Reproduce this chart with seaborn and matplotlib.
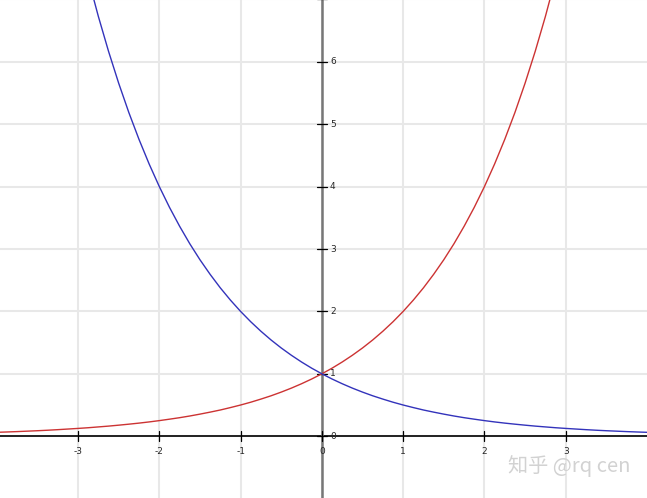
import matplotlib
matplotlib.use("Agg")
import matplotlib.pyplot as plt
import seaborn as sns
import pandas as pd

# points (x step 0.125)
xs = [-4.0, -3.875, -3.75, -3.625, -3.5, -3.375, -3.25, -3.125,
      -3.0, -2.875, -2.75, -2.625, -2.5, -2.375, -2.25, -2.125,
      -2.0, -1.875, -1.75, -1.625, -1.5, -1.375, -1.25, -1.125,
      -1.0, -0.875, -0.75, -0.625, -0.5, -0.375, -0.25, -0.125,
      0.0, 0.125, 0.25, 0.375, 0.5, 0.625, 0.75, 0.875,
      1.0, 1.125, 1.25, 1.375, 1.5, 1.625, 1.75, 1.875,
      2.0, 2.125, 2.25, 2.375, 2.5, 2.625, 2.75, 2.875,
      3.0, 3.125, 3.25, 3.375, 3.5, 3.625, 3.75, 3.875, 4.0]
red_y = [0.0625, 0.068, 0.074, 0.081, 0.088, 0.096, 0.105, 0.115,
         0.125, 0.136, 0.149, 0.162, 0.177, 0.193, 0.21, 0.229,
         0.25, 0.273, 0.297, 0.324, 0.354, 0.386, 0.42, 0.459,
         0.5, 0.545, 0.595, 0.648, 0.707, 0.771, 0.841, 0.917,
         1.0, 1.09, 1.189, 1.297, 1.414, 1.542, 1.682, 1.834,
         2.0, 2.181, 2.378, 2.594, 2.828, 3.084, 3.364, 3.668,
         4.0, 4.362, 4.757, 5.187, 5.657, 6.169, 6.727, 7.336,
         8.0, 8.72, 9.51, 10.37, 11.31, 12.34, 13.45, 14.67, 16.0]
blue_y = red_y[::-1]

x_ticks = [-3, -2, -1, 0, 1, 2, 3]
y_ticks = [0, 1, 2, 3, 4, 5, 6, 7]

df = pd.DataFrame({"x": xs + xs, "y": red_y + blue_y,
                   "curve": ["red"] * len(xs) + ["blue"] * len(xs)})

sns.set_style("white")
fig = plt.figure(figsize=(6.47, 4.98), dpi=100)
ax = fig.add_axes([0, 0, 1, 1])

# grid
for gx in x_ticks:
    ax.axvline(gx, color="#e8e8e8", lw=1.5, zorder=0)
for gy in y_ticks:
    ax.axhline(gy, color="#e8e8e8", lw=1.5, zorder=0)

sns.lineplot(data=df, x="x", y="y", hue="curve", palette={"red": "#cc3333", "blue": "#3333bb"},
             sort=True, legend=False, lw=1.0, ax=ax, zorder=3)

# axes
ax.axhline(0, color="black", lw=1.2, zorder=2)
ax.axvline(0, color="#777777", lw=1.8, zorder=2)

# ticks and labels
for t in x_ticks:
    ax.plot([t, t], [-0.08, 0.09], color="black", lw=0.9, zorder=2)
    ax.text(t, -0.24, str(t), ha="center", va="center", fontsize=6.5)
for t in y_ticks:
    ax.plot([-0.065, 0.065], [t, t], color="black", lw=0.9, zorder=2)
    if t < 7:
        ax.text(0.1, t, str(t), ha="left", va="center", fontsize=6.5)

ax.text(508 / 647, 0.065, "知乎 @rq cen", transform=ax.transAxes, ha="left", va="center",
        fontsize=14.5, color="#d2d2d2", family=["Noto Sans CJK SC", "DejaVu Sans"])

ax.set_xlim(-3.96, 4.0)
ax.set_ylim(-0.99, 6.99)
ax.set_axis_off()

fig.savefig("out.png", dpi=100)
